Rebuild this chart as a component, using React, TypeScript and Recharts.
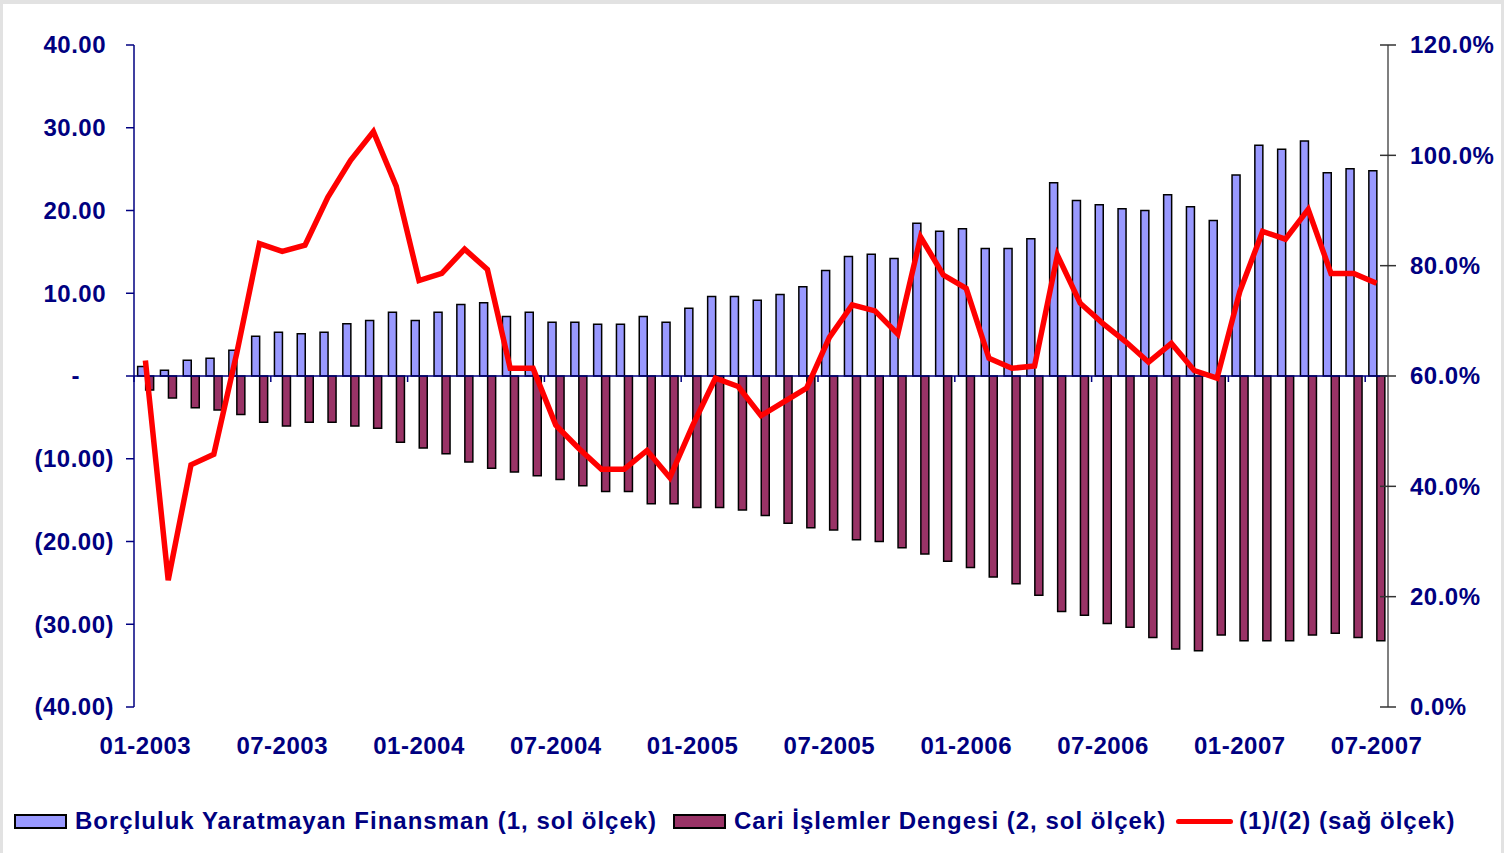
import { ComposedChart, Bar, Line, XAxis, YAxis, ReferenceLine, Legend } from 'recharts'

const months = [
  '01-2003', '02-2003', '03-2003', '04-2003', '05-2003', '06-2003', '07-2003', '08-2003', '09-2003', '10-2003', '11-2003', '12-2003',
  '01-2004', '02-2004', '03-2004', '04-2004', '05-2004', '06-2004', '07-2004', '08-2004', '09-2004', '10-2004', '11-2004', '12-2004',
  '01-2005', '02-2005', '03-2005', '04-2005', '05-2005', '06-2005', '07-2005', '08-2005', '09-2005', '10-2005', '11-2005', '12-2005',
  '01-2006', '02-2006', '03-2006', '04-2006', '05-2006', '06-2006', '07-2006', '08-2006', '09-2006', '10-2006', '11-2006', '12-2006',
  '01-2007', '02-2007', '03-2007', '04-2007', '05-2007', '06-2007', '07-2007',
]

// (1) borçluluk yaratmayan finansman, sol ölçek
const finansman = [
  1.15, 0.7, 1.9, 2.15, 3.1, 4.8, 5.3, 5.1, 5.3, 6.3, 6.7, 7.7,
  6.7, 7.7, 8.65, 8.85, 7.2, 7.7, 6.5, 6.5, 6.25, 6.25, 7.2, 6.5,
  8.2, 9.6, 9.6, 9.15, 9.85, 10.8, 12.75, 14.45, 14.7, 14.2, 18.45, 17.5,
  17.8, 15.4, 15.4, 16.6, 23.35, 21.2, 20.7, 20.2, 20.0, 21.9, 20.45, 18.8,
  24.3, 27.9, 27.4, 28.4, 24.55, 25.05, 24.8,
]

// (2) cari işlemler dengesi, sol ölçek
const cariDenge = [
  -1.7, -2.65, -3.85, -4.1, -4.65, -5.6, -6.05, -5.6, -5.6, -6.05, -6.3, -8.0,
  -8.7, -9.4, -10.4, -11.15, -11.6, -12.05, -12.5, -13.25, -13.95, -13.95, -15.45, -15.45,
  -15.9, -15.9, -16.2, -16.85, -17.8, -18.35, -18.6, -19.8, -20.0, -20.75, -21.5, -22.4,
  -23.15, -24.3, -25.1, -26.5, -28.45, -28.9, -29.9, -30.35, -31.6, -33.0, -33.2, -31.3,
  -32.0, -32.0, -32.0, -31.3, -31.1, -31.6, -32.0,
]

// (1)/(2), sağ ölçek (%)
const oran = [
  62.8, 23.0, 43.9, 45.8, 64.0, 84.0, 82.6, 83.7, 92.4, 99.1, 104.3, 94.4,
  77.3, 78.6, 83.0, 79.3, 61.4, 61.4, 51.1, 46.9, 43.1, 43.1, 46.5, 41.6,
  51.0, 59.6, 58.1, 52.8, 55.3, 57.8, 67.0, 72.9, 71.8, 67.6, 85.2, 78.3,
  75.9, 63.2, 61.4, 61.8, 81.9, 73.2, 69.5, 66.2, 62.5, 65.9, 61.0, 59.6,
  75.3, 86.2, 84.8, 90.2, 78.6, 78.6, 76.8,
]

const leftTicks = [-40, -30, -20, -10, 0, 10, 20, 30, 40]
const rightTicks = [0, 20, 40, 60, 80, 100, 120]
const legendOrder = ['fin', 'cari', 'oran']

const NAVY = '#000080'
const FONT = '"Liberation Sans", Arial, Helvetica, sans-serif'

const data = months.map((m, i) => ({
  month: m,
  fin: finansman[i],
  cari: cariDenge[i],
  oran: oran[i],
}))

function LeftTick(props: any) {
  const { x, y, payload } = props
  const v = payload.value as number
  let label = v.toFixed(2)
  let dx = -8
  if (v < 0) {
    label = `(${Math.abs(v).toFixed(2)})`
    dx = 0
  } else if (v === 0) {
    label = '-'
    dx = -34
  }
  return (
    <text x={x + dx} y={y} dy="0.35em" textAnchor="end" fill={NAVY} fontSize={24} fontWeight={700} fontFamily={FONT} letterSpacing={0.5}>
      {label}
    </text>
  )
}

function RightTick(props: any) {
  const { x, y, payload } = props
  const ax = x - 22
  return (
    <g>
      <line x1={ax - 8} x2={ax + 8} y1={y} y2={y} stroke="#333" strokeWidth={1.5} />
      <text x={x} y={y} dy="0.35em" textAnchor="start" fill={NAVY} fontSize={24} fontWeight={700} fontFamily={FONT} letterSpacing={0.5}>
        {`${(payload.value as number).toFixed(1)}%`}
      </text>
    </g>
  )
}

function ZeroLine(props: any) {
  const { x1, x2, y1 } = props
  const step = (x2 - x1) / months.length
  const marks: number[] = []
  for (let i = 0; i < months.length; i += 6) marks.push(x1 + i * step)
  return (
    <g>
      <line x1={x1} x2={x2} y1={y1} y2={y1} stroke={NAVY} strokeWidth={1.5} />
      {marks.map((mx) => (
        <line key={mx} x1={mx} x2={mx} y1={y1} y2={y1 + 6} stroke={NAVY} strokeWidth={1.5} />
      ))}
    </g>
  )
}

const legendWidths = [659, 503, 290]

function LegendBox(props: any) {
  const items = [...(props.payload || [])].sort(
    (a: any, b: any) => legendOrder.indexOf(a.dataKey) - legendOrder.indexOf(b.dataKey),
  )
  return (
    <div
      style={{
        height: 86,
        display: 'flex',
        alignItems: 'center',
        paddingLeft: 14,
        paddingTop: 22,
        boxSizing: 'border-box',
        fontFamily: FONT,
        fontWeight: 700,
        fontSize: 24,
        letterSpacing: 1,
        color: NAVY,
        whiteSpace: 'nowrap',
      }}
    >
      {items.map((it: any, i: number) => (
        <div key={it.dataKey} style={{ width: legendWidths[i], flexShrink: 0, display: 'flex', alignItems: 'center' }}>
          {it.type === 'line' ? (
            <span
              style={{ display: 'inline-block', flexShrink: 0, width: 57, height: 5, borderRadius: 3, background: it.color, marginRight: 6 }}
            />
          ) : (
            <span
              style={{
                display: 'inline-block',
                flexShrink: 0,
                width: 49,
                height: 11,
                background: it.color,
                border: '2px solid #000',
                marginRight: 8,
              }}
            />
          )}
          <span>{it.value}</span>
        </div>
      ))}
    </div>
  )
}

export default function App() {
  return (
    <div style={{ position: 'absolute', left: 0, top: 0, width: 1504, height: 853, background: '#e2e2e2' }}>
      <div style={{ position: 'absolute', left: 3, top: 4, width: 1498, height: 849, background: '#ffffff' }} />
      <div style={{ position: 'absolute', left: 0, top: 0 }}>
        <ComposedChart
          width={1504}
          height={853}
          data={data}
          margin={{ top: 45, right: 0, bottom: 0, left: 0 }}
          barCategoryGap="16%"
          barGap={0}
        >
          <XAxis
            dataKey="month"
            interval={5}
            axisLine={false}
            tickLine={false}
            tickSize={0}
            tickMargin={30}
            height={60}
            tick={{ fill: NAVY, fontSize: 24, fontWeight: 700, fontFamily: FONT, letterSpacing: 0.5 }}
          />
          <YAxis
            yAxisId="left"
            domain={[-40, 40]}
            ticks={leftTicks}
            width={134}
            tickSize={8}
            tickMargin={12}
            stroke={NAVY}
            axisLine={{ stroke: NAVY, strokeWidth: 1.5 }}
            tickLine={{ stroke: NAVY, strokeWidth: 1.5 }}
            tick={<LeftTick />}
          />
          <YAxis
            yAxisId="right"
            orientation="right"
            domain={[0, 120]}
            ticks={rightTicks}
            width={116}
            tickSize={8}
            tickMargin={14}
            axisLine={{ stroke: '#555', strokeWidth: 1.5 }}
            tickLine={false}
            tick={<RightTick />}
          />
          <Bar
            yAxisId="left"
            dataKey="fin"
            name="Borçluluk Yaratmayan Finansman (1, sol ölçek)"
            fill="#9999FF"
            stroke="#000"
            strokeWidth={1.5}
            isAnimationActive={false}
          />
          <Bar
            yAxisId="left"
            dataKey="cari"
            name="Cari İşlemler Dengesi (2, sol ölçek)"
            fill="#993366"
            stroke="#000"
            strokeWidth={1.5}
            isAnimationActive={false}
          />
          <ReferenceLine yAxisId="left" y={0} shape={<ZeroLine />} />
          <Line
            yAxisId="right"
            type="linear"
            dataKey="oran"
            name="(1)/(2) (sağ ölçek)"
            stroke="#FF0000"
            strokeWidth={5.5}
            dot={false}
            activeDot={false}
            isAnimationActive={false}
          />
          <Legend verticalAlign="bottom" content={<LegendBox />} wrapperStyle={{ left: 0, width: 1504 }} />
        </ComposedChart>
      </div>
    </div>
  )
}
